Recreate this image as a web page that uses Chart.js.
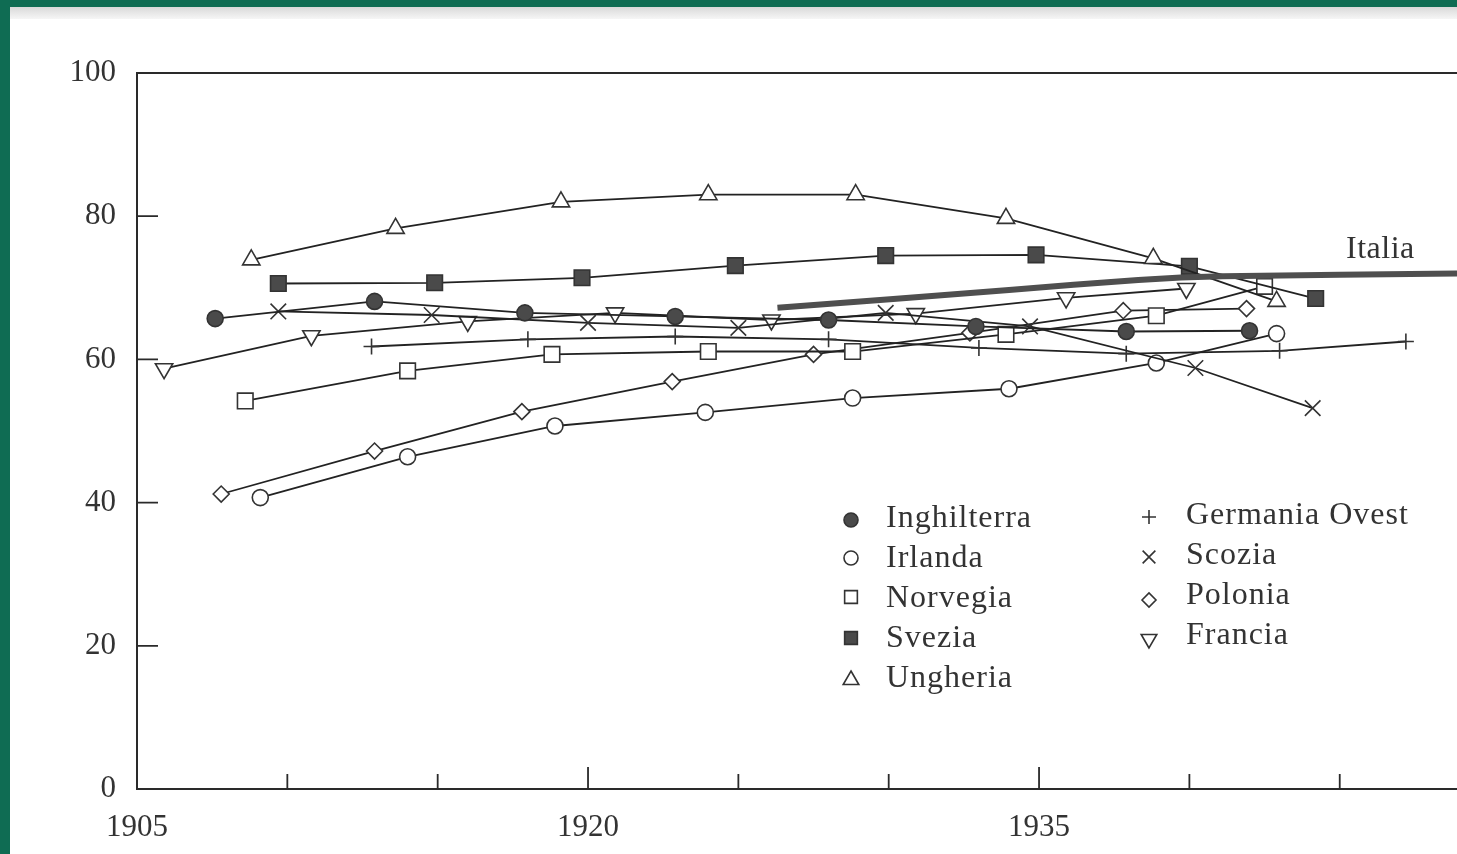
<!DOCTYPE html>
<html>
<head>
<meta charset="utf-8">
<script src="https://cdn.jsdelivr.net/npm/chart.js@4.4.1/dist/chart.umd.min.js"></script>
<style>
  body { margin: 0; background: #0f6c53; width: 1457px; height: 854px; overflow: hidden; position: relative; }
  .page { position: absolute; left: 10px; top: 7px; right: 0; bottom: 0; background: #fff; }
  .scanband { position: absolute; left: 10px; top: 7px; right: 0; height: 12px; background: linear-gradient(#d9d9d9, #f6f6f6); }
  #chart0 { position: absolute; left: 0; top: 0; }
  .lbl { position: absolute; font-family: 'Liberation Serif', serif; font-size: 32px; line-height: 32px; color: #333; letter-spacing: 1px; white-space: nowrap; }
</style>
</head>
<body>
<div class="page"></div>
<div class="scanband"></div>
<canvas id="chart0" width="1457" height="854"></canvas>
<div class="lbl" style="left:1346px;top:231px;letter-spacing:0.5px">Italia</div>
<div class="lbl" style="left:886px;top:500px">Inghilterra</div>
<div class="lbl" style="left:886px;top:540px">Irlanda</div>
<div class="lbl" style="left:886px;top:580px">Norvegia</div>
<div class="lbl" style="left:886px;top:620px">Svezia</div>
<div class="lbl" style="left:886px;top:660px">Ungheria</div>
<div class="lbl" style="left:1186px;top:497px">Germania Ovest</div>
<div class="lbl" style="left:1186px;top:537px">Scozia</div>
<div class="lbl" style="left:1186px;top:577px">Polonia</div>
<div class="lbl" style="left:1186px;top:617px">Francia</div>
<script>
// values (x = year, y = value)
const yrs_ungheria = [1908.8, 1913.6, 1919.1, 1924.0, 1928.9, 1933.9, 1938.8, 1942.9];
const val_ungheria = [73.9, 78.3, 82.0, 83.0, 83.0, 79.7, 74.1, 68.1];

const yrs_svezia = [1909.7, 1914.9, 1919.8, 1924.9, 1929.9, 1934.9, 1940.0, 1944.2];
const val_svezia = [70.6, 70.7, 71.4, 73.1, 74.5, 74.6, 73.0, 68.5];

const yrs_inghilterra = [1907.6, 1912.9, 1917.9, 1922.9, 1928.0, 1932.9, 1937.9, 1942.0];
const val_inghilterra = [65.7, 68.1, 66.5, 66.0, 65.5, 64.6, 63.9, 64.0];

const yrs_scozia = [1909.7, 1914.8, 1920.0, 1925.0, 1929.9, 1934.7, 1940.2, 1944.1];
const val_scozia = [66.7, 66.2, 65.1, 64.4, 66.5, 64.6, 58.8, 53.2];

const yrs_francia = [1905.9, 1910.8, 1916.0, 1920.9, 1926.1, 1930.9, 1935.9, 1939.9];
const val_francia = [58.7, 63.3, 65.3, 66.5, 65.5, 66.4, 68.6, 69.9];

const yrs_germania = [1912.8, 1918.0, 1922.9, 1928.0, 1933.0, 1937.9, 1943.0, 1947.2];
const val_germania = [61.8, 62.8, 63.2, 62.8, 61.6, 60.8, 61.2, 62.5];

const yrs_norvegia = [1908.6, 1914.0, 1918.8, 1924.0, 1928.8, 1933.9, 1938.9, 1942.5];
const val_norvegia = [54.2, 58.4, 60.7, 61.1, 61.1, 63.5, 66.1, 70.2];

const yrs_polonia = [1907.8, 1912.9, 1917.8, 1922.8, 1927.5, 1932.7, 1937.8, 1941.9];
const val_polonia = [41.2, 47.2, 52.7, 56.9, 60.7, 63.7, 66.8, 67.1];

const yrs_irlanda = [1909.1, 1914.0, 1918.9, 1923.9, 1928.8, 1934.0, 1938.9, 1942.9];
const val_irlanda = [40.7, 46.4, 50.7, 52.6, 54.6, 55.9, 59.5, 63.6];

const yrs_italia = [1926.3, 1934.0, 1938.3, 1941.1, 1948.9];
const val_italia = [67.2, 69.7, 71.1, 71.6, 72.0];

const xTickYears = [1910, 1915, 1920, 1925, 1930, 1935, 1940, 1945];
const xLabelYears = [1905, 1920, 1935];
const yTickValues = [0, 20, 40, 60, 80, 100];

const INK = '#222';
const FILL = '#4a4a4a';

function pts(xs, ys) {
  return xs.map((x, i) => ({ x: x, y: ys[i] }));
}

function series(label, xs, ys, style, radius, filled, rotation) {
  return {
    label: label,
    data: pts(xs, ys),
    borderColor: INK,
    borderWidth: 1.8,
    pointStyle: style,
    pointRadius: radius,
    pointRotation: rotation || 0,
    pointBorderColor: '#333',
    pointBorderWidth: 1.6,
    pointBackgroundColor: filled ? FILL : '#fff',
    tension: 0,
    fill: false
  };
}

// legend marker positions (drawn with the same point styles)
const legendMarks = [
  { x: 851, y: 520, style: 'circle', r: 7, filled: true },
  { x: 851, y: 558, style: 'circle', r: 7, filled: false },
  { x: 851, y: 597, style: 'rect', r: 9, filled: false },
  { x: 851, y: 638, style: 'rect', r: 9, filled: true },
  { x: 851, y: 680, style: 'triangle', r: 9, filled: false },
  { x: 1149, y: 517, style: 'cross', r: 7, filled: false },
  { x: 1149, y: 557, style: 'crossRot', r: 9, filled: false },
  { x: 1149, y: 600, style: 'rectRot', r: 7, filled: false },
  { x: 1149, y: 639, style: 'triangle', r: 9, filled: false, rot: 180 }
];

const framePlugin = {
  id: 'frame',
  beforeDatasetsDraw(chart) {
    const ctx = chart.ctx, a = chart.chartArea;
    const x = chart.scales.x, y = chart.scales.y;
    ctx.save();
    ctx.strokeStyle = '#2a2a2a';
    ctx.lineWidth = 2;
    ctx.beginPath();
    ctx.moveTo(a.right, a.top);
    ctx.lineTo(a.left, a.top);
    ctx.lineTo(a.left, a.bottom);
    ctx.lineTo(a.right, a.bottom);
    ctx.stroke();
    ctx.lineWidth = 1.8;
    ctx.beginPath();
    yTickValues.forEach(v => {
      if (v <= 0 || v >= 100) return;
      const py = y.getPixelForValue(v);
      ctx.moveTo(a.left, py);
      ctx.lineTo(a.left + 21, py);
    });
    xTickYears.forEach(v => {
      const px = x.getPixelForValue(v);
      const len = xLabelYears.includes(v) ? 22 : 15;
      ctx.moveTo(px, a.bottom);
      ctx.lineTo(px, a.bottom - len);
    });
    ctx.stroke();
    ctx.restore();
  },
  afterDraw(chart) {
    const ctx = chart.ctx;
    ctx.save();
    legendMarks.forEach(m => {
      ctx.fillStyle = m.filled ? FILL : '#fff';
      ctx.strokeStyle = '#333';
      ctx.lineWidth = 1.6;
      Chart.helpers.drawPoint(ctx, {
        pointStyle: m.style, radius: m.r, rotation: m.rot || 0, borderWidth: 1.6
      }, m.x, m.y);
    });
    ctx.restore();
  }
};

Chart.defaults.font.family = "'Liberation Serif', serif";

const ctx = document.getElementById('chart0').getContext('2d');
const myChart = new Chart(ctx, {
  type: 'line',
  data: {
    datasets: [
      {
        label: 'Italia',
        data: pts(yrs_italia, val_italia),
        borderColor: '#4f4f4f',
        borderWidth: 6,
        pointRadius: 0,
        tension: 0.2,
        fill: false
      },
      series('Ungheria', yrs_ungheria, val_ungheria, 'triangle', 10, false),
      series('Svezia', yrs_svezia, val_svezia, 'rect', 11, true),
      series('Inghilterra', yrs_inghilterra, val_inghilterra, 'circle', 8, true),
      series('Scozia', yrs_scozia, val_scozia, 'crossRot', 11, false),
      series('Francia', yrs_francia, val_francia, 'triangle', 10, false, 180),
      series('Germania Ovest', yrs_germania, val_germania, 'cross', 8, false),
      series('Norvegia', yrs_norvegia, val_norvegia, 'rect', 11, false),
      series('Polonia', yrs_polonia, val_polonia, 'rectRot', 8, false),
      series('Irlanda', yrs_irlanda, val_irlanda, 'circle', 8, false)
    ]
  },
  options: {
    responsive: false,
    animation: false,
    devicePixelRatio: 1,
    layout: { autoPadding: false, padding: { left: 10, top: 73, right: 0, bottom: 0 } },
    plugins: { legend: { display: false }, tooltip: { enabled: false } },
    scales: {
      x: {
        type: 'linear',
        min: 1905,
        max: 1948.9,
        grid: { display: false, drawTicks: false },
        border: { display: false },
        afterFit: s => { s.height = 65; },
        afterBuildTicks: s => {
          s.ticks = xLabelYears.map(v => ({ value: v }));
        },
        ticks: {
          autoSkip: false,
          maxRotation: 0,
          padding: 20,
          color: '#333',
          font: { size: 31 },
          callback: v => String(v)
        }
      },
      y: {
        min: 0,
        max: 100,
        grid: { display: false, drawTicks: false },
        border: { display: false },
        afterFit: s => { s.width = 127; },
        afterBuildTicks: s => {
          s.ticks = yTickValues.map(v => ({ value: v }));
        },
        ticks: {
          padding: 21,
          color: '#333',
          font: { size: 31 }
        }
      }
    }
  },
  plugins: [framePlugin]
});
</script>
</body>
</html>
